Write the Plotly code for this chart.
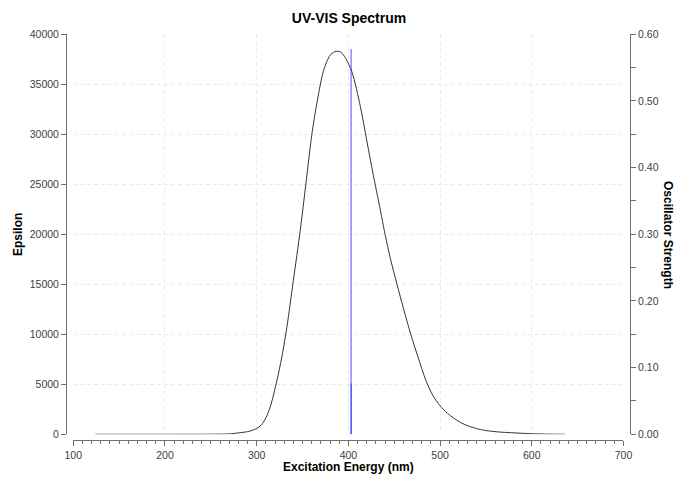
import plotly.graph_objects as go

# ---- data ----
wavelength_nm = [124, 200, 250, 270, 280, 290, 295, 300, 305, 310, 315, 322, 327.5, 333,
                 340, 347.5, 355, 360, 366, 373, 380, 385, 389, 392, 397, 404, 413, 420,
                 427, 434, 440, 446, 453, 460, 468, 476, 484, 492, 500, 508, 515, 524,
                 533, 542, 551, 564, 577, 598, 615, 636]
epsilon = [0, 0, 10, 40, 140, 260, 390, 580, 930, 1650, 2800, 5350, 7760, 10760,
           15400, 20400, 26100, 29900, 33300, 36400, 37900, 38250, 38300, 38200, 37600,
           36200, 32800, 29400, 26000, 22800, 20000, 17500, 15000, 12600, 10000, 7700,
           5500, 3900, 2850, 2100, 1600, 1100, 760, 520, 360, 230, 160, 60, 20, 0]

stick_wavelength = [403, 403]
stick_strength = [0.578, 0.076]

x_ticks = [100, 200, 300, 400, 500, 600, 700]
eps_ticks = [0, 5000, 10000, 15000, 20000, 25000, 30000, 35000, 40000]
osc_ticks = [0.0, 0.1, 0.2, 0.3, 0.4, 0.5, 0.6]

FONT = "Arial, Liberation Sans, Helvetica, sans-serif"
AXIS_COL = "#707070"
GRID_COL = "#ebebeb"
TICKFONT = dict(family=FONT, size=10.5, color="#404040")

fig = go.Figure()
fig.add_trace(go.Scatter(x=wavelength_nm, y=epsilon, mode="lines",
                         line=dict(color="#333333", width=1, shape="spline", smoothing=0.8),
                         yaxis="y", showlegend=False, hoverinfo="skip"))

sx, sy = [], []
for w, f in zip(stick_wavelength, stick_strength):
    sx += [w, w, None]
    sy += [0, f, None]
fig.add_trace(go.Scatter(x=sx, y=sy, mode="lines",
                         line=dict(color="rgba(40,40,255,0.55)", width=1.5),
                         yaxis="y2", showlegend=False, hoverinfo="skip"))

fig.update_layout(
    width=678, height=477,
    margin=dict(l=60, r=40, t=30, b=30),
    paper_bgcolor="white", plot_bgcolor="white",
    font=dict(family=FONT),
    xaxis=dict(range=[100, 700], domain=[0.0230, 0.9749], anchor="free", position=0.0168,
               tickvals=x_ticks, ticks="outside", ticklen=5, tickcolor=AXIS_COL,
               showline=True, linecolor=AXIS_COL, linewidth=1,
               showgrid=True, gridcolor=GRID_COL, griddash="4px,3px", gridwidth=1,
               zeroline=False, tickfont=TICKFONT, automargin=False,
               minor=dict(dtick=10, ticks="outside", ticklen=3, tickcolor=AXIS_COL, showgrid=False)),
    yaxis=dict(range=[0, 40000], domain=[0.0305, 0.9897], anchor="free", position=0.0104,
               tickvals=eps_ticks, tickformat="d", ticks="outside", ticklen=5, tickcolor=AXIS_COL,
               showline=True, linecolor=AXIS_COL, linewidth=1,
               showgrid=True, gridcolor=GRID_COL, griddash="4px,3px", gridwidth=1,
               zeroline=False, tickfont=TICKFONT, automargin=False),
    yaxis2=dict(range=[0, 0.6], overlaying="y", side="right", anchor="free", position=0.9862,
                tickvals=osc_ticks, tickformat=".2f", ticks="outside", ticklen=5,
                tickcolor=AXIS_COL, showline=True, linecolor=AXIS_COL, linewidth=1,
                showgrid=False, zeroline=False, tickfont=TICKFONT, automargin=False,
                minor=dict(dtick=0.05, ticks="outside", ticklen=5, tickcolor=AXIS_COL, showgrid=False)),
    title=dict(text="<b>UV-VIS Spectrum</b>", x=0.5, xref="paper", y=1 - 18 / 477,
               yref="container", xanchor="center", yanchor="middle",
               font=dict(family=FONT, size=14, color="black")),
)

fig.add_annotation(text="<b>Excitation Energy (nm)</b>", xref="paper", yref="paper",
                   x=(348 - 60) / 578, y=(447 - 467) / 417, showarrow=False,
                   xanchor="center", yanchor="middle",
                   font=dict(family=FONT, size=12, color="black"))
fig.add_annotation(text="<b>Epsilon</b>", xref="paper", yref="paper",
                   x=(18 - 60) / 578, y=(447 - 235) / 417, showarrow=False, textangle=-90,
                   xanchor="center", yanchor="middle",
                   font=dict(family=FONT, size=12, color="black"))
fig.add_annotation(text="<b>Oscillator Strength</b>", xref="paper", yref="paper",
                   x=(668 - 60) / 578, y=(447 - 235) / 417, showarrow=False, textangle=90,
                   xanchor="center", yanchor="middle",
                   font=dict(family=FONT, size=12, color="black"))

fig.write_html("out.html")
